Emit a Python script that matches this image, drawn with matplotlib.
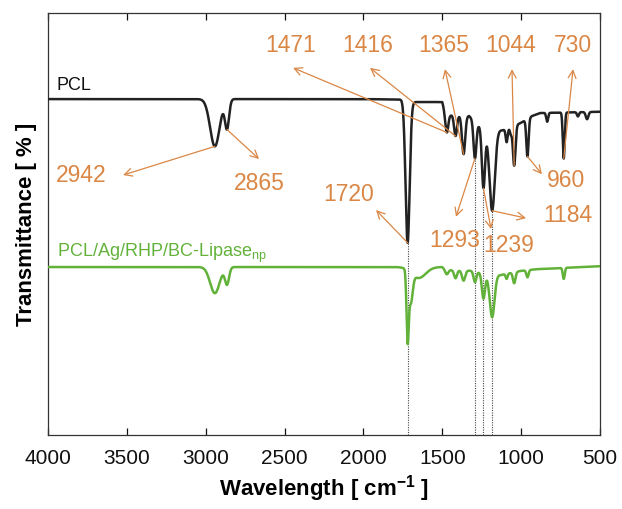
import numpy as np
import matplotlib
matplotlib.use("Agg")
import matplotlib.pyplot as plt

plt.rcParams['font.family'] = ['Liberation Sans', 'DejaVu Sans']
plt.rcParams['mathtext.fontset'] = 'custom'
plt.rcParams['mathtext.rm'] = 'Liberation Sans'
plt.rcParams['mathtext.bf'] = 'Liberation Sans:bold'

# ---- spectra data (transmittance, arbitrary offset units) ----
# PCL: background level anchors
pcl_base_wn = [4000, 3000, 2000, 1760, 1690, 1500, 1485, 1450, 1330, 1270, 1210, 1120, 1080, 1000, 930, 880, 500]
pcl_base_t = [79.6, 79.6, 79.6, 79.5, 78.9, 78.9, 76.8, 75.8, 75.6, 73.4, 72.4, 72.2, 72.6, 74.0, 75.6, 76.3, 76.6]
# PCL absorption bands: centre (cm-1), depth, width (cm-1)
pcl_band_wn = [2942, 2865, 1720, 1471, 1416, 1365, 1293, 1239, 1184, 1092, 1065, 1044, 960, 835, 730, 640, 582]
pcl_band_depth = [11.2, 6.8, 33.6, 4.7, 4.9, 9.1, 8.7, 14.3, 19.2, 3.1, 1.5, 9.4, 8.9, 2.1, 10.9, 1.0, 1.7]
pcl_band_width = [30, 13, 13, 9, 9, 10, 9, 10, 17, 6, 6, 8, 7, 6, 6, 6, 8]

# PCL/Ag/RHP/BC-Lipase_np: background level anchors
comp_base_wn = [4000, 1500, 1480, 1300, 1210, 1130, 1000, 900, 500]
comp_base_t = [39.8, 39.8, 39.1, 38.9, 37.9, 37.9, 38.9, 39.3, 40.0]
comp_band_wn = [2942, 2865, 1720, 1700, 1650, 1471, 1416, 1365, 1293, 1239, 1184, 1092, 1044, 960, 730]
comp_band_depth = [6.2, 4.0, 15.6, 7.1, 2.6, 1.0, 1.9, 2.4, 2.6, 5.9, 10.0, 1.2, 2.6, 1.7, 2.6]
comp_band_width = [30, 13, 7, 12, 45, 9, 9, 10, 9, 10, 15, 6, 8, 7, 6]

# annotated band labels
ann_labels = ['2942', '2865', '1720', '1471', '1416', '1365', '1293', '1239', '1184', '1044', '960', '730']
ann_peak_wn = [2942, 2865, 1720, 1471, 1416, 1365, 1293, 1239, 1184, 1044, 960, 730]
# bands marked with vertical guide lines
guide_wn = [1720, 1293, 1239, 1184]

# label text positions and arrow tips (data coordinates)
ann_text_xy = [(3788, 61.6), (2662, 59.5), (2091, 56.9), (2459, 92.2), (1971, 92.2), (1492, 92.2),
               (1419, 46.2), (1077, 44.8), (703, 51.9), (1064, 92.2), (716, 60.4), (674, 92.2)]
ann_tip_xy = [(3524, 61.6), (2662, 65.4), (1920, 53.3), (2446, 87.0), (1958, 87.0), (1483, 86.7),
              (1413, 51.7), (1191, 48.8), (969, 51.4), (1058, 86.7), (868, 61.8), (671, 86.7)]


def spectrum(wn, base_wn, base_t, centres, depths, widths):
    base = np.interp(wn, base_wn[::-1], base_t[::-1])
    absorb = np.zeros_like(wn)
    for c, d, w in zip(centres, depths, widths):
        absorb += d * np.exp(-0.5 * ((wn - c) / w) ** 2)
    return base - absorb


wn = np.linspace(4000, 500, 7001)
t_pcl = spectrum(wn, pcl_base_wn, pcl_base_t, pcl_band_wn, pcl_band_depth, pcl_band_width)
t_comp = spectrum(wn, comp_base_wn, comp_base_t, comp_band_wn, comp_band_depth, comp_band_width)

fig = plt.figure(figsize=(6.22, 5.09), dpi=100)
ax = fig.add_axes([48 / 622, 74 / 509, 552 / 622, 422 / 509])

orange = '#DA8746'
green = '#62B23A'

# guide lines from PCL band minima down to the axis
for g in guide_wn:
    tg = np.interp(g, wn[::-1], t_pcl[::-1])
    ax.plot([g, g], [0, tg], ls=(0, (1, 1.2)), lw=0.8, color='#444444', zorder=1)

ax.plot(wn, t_pcl, color='#222222', lw=1.8, zorder=3)
ax.plot(wn, t_comp, color=green, lw=1.8, zorder=3)

ax.text(3943, 82.9, 'PCL', fontsize=13, color='#111111', ha='left', va='center')
ax.text(3943, 43.1, r'PCL/Ag/RHP/BC-Lipase$_{\mathregular{np}}$', fontsize=13, color=green,
        ha='left', va='center')

for lab, pw, txy, tip in zip(ann_labels, ann_peak_wn, ann_text_xy, ann_tip_xy):
    tp = np.interp(pw, wn[::-1], t_pcl[::-1])
    ax.annotate('', xy=tip, xytext=(pw, tp),
                arrowprops=dict(arrowstyle='->,head_length=0.55,head_width=0.28',
                                color=orange, lw=0.9, shrinkA=0, shrinkB=0), zorder=4)
    ax.text(txy[0], txy[1], lab, fontsize=16.5, color=orange, ha='center', va='center', zorder=5)

ax.set_xlim(4000, 500)
ax.set_ylim(0, 100)
ax.set_xticks([4000, 3500, 3000, 2500, 2000, 1500, 1000, 500])
ax.set_yticks([])
ax.tick_params(axis='x', direction='in', length=5, width=0.9, top=True, labelsize=15, pad=10,
               colors='#111111')
for s in ax.spines.values():
    s.set_linewidth(0.9)
    s.set_color('#333333')

ax.set_xlabel(r'Wavelength [ cm$^{\mathbf{-1}}$ ]', fontsize=16, fontweight='bold', labelpad=4)
ax.set_ylabel('Transmittance [ % ]', fontsize=16, fontweight='bold', labelpad=8)

fig.savefig('out.png', dpi=100, facecolor='white')
